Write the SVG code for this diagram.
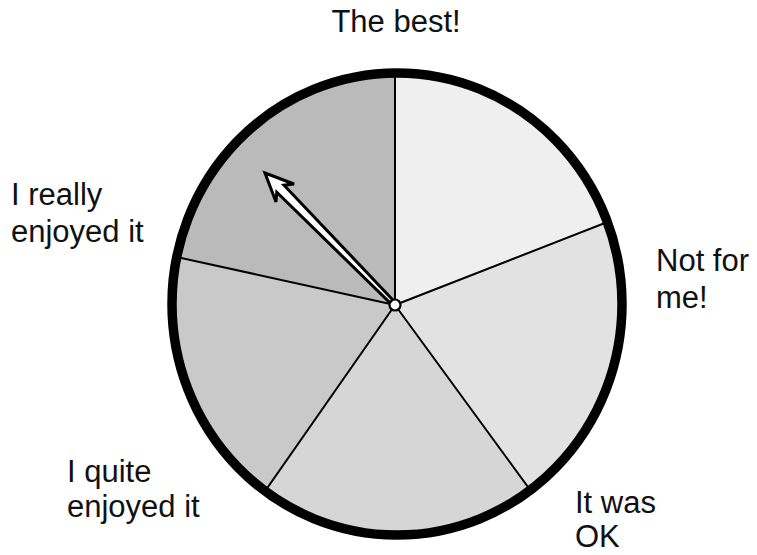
<svg xmlns="http://www.w3.org/2000/svg" width="757" height="555" viewBox="0 0 757 555">
  <style>
    .lbl { font-family: "Liberation Sans", Arial, sans-serif; font-size: 31px; fill: #111; }
    .spoke { stroke: #000; stroke-width: 2; fill: none; }
  </style>
  <defs>
    <clipPath id="wheel">
      <ellipse cx="397" cy="304" rx="225" ry="231"/>
    </clipPath>
  </defs>
  <rect width="757" height="555" fill="#fff"/>
  <g id="wheel-sectors" clip-path="url(#wheel)">
    <g id="sector-top-right"><polygon points="395,305 395,-100 815,-100 815,141" fill="#efefef"/></g>
    <g id="sector-right"><polygon points="395,305 815,141 815,669 661,669" fill="#e2e2e2"/></g>
    <g id="sector-bottom"><polygon points="395,305 661,669 141,669" fill="#d6d6d6"/></g>
    <g id="sector-left"><polygon points="395,305 141,669 -41,669 -41,209" fill="#c9c9c9"/></g>
    <g id="sector-top-left"><polygon points="395,305 -41,209 -41,-100 395,-100" fill="#bababa"/></g>
  </g>
  <g id="connectors" clip-path="url(#wheel)">
    <line class="spoke" x1="395" y1="305" x2="395" y2="60"/>
    <line class="spoke" x1="395" y1="305" x2="815" y2="141"/>
    <line class="spoke" x1="395" y1="305" x2="661" y2="669"/>
    <line class="spoke" x1="395" y1="305" x2="141" y2="669"/>
    <line class="spoke" x1="395" y1="305" x2="-41" y2="209"/>
  </g>
  <g id="rim">
    <ellipse cx="397" cy="304" rx="225" ry="231" fill="none" stroke="#000" stroke-width="9.5"/>
  </g>
  <g id="pointer">
    <polygon points="265,173 294,184 284,185.2 396.4,303.6 393.6,306.4 276.8,192.2 276,202" fill="#fff" stroke="#000" stroke-width="3" stroke-linejoin="miter"/>
    <circle cx="395" cy="305" r="5.5" fill="#fff" stroke="#000" stroke-width="2.2"/>
  </g>
  <g id="label-best"><text class="lbl" x="396" y="32" text-anchor="middle">The best!</text></g>
  <g id="label-really"><text class="lbl" x="11" y="205">I really</text><text class="lbl" x="11" y="242">enjoyed it</text></g>
  <g id="label-notforme"><text class="lbl" x="656" y="271">Not for</text><text class="lbl" x="656" y="308">me!</text></g>
  <g id="label-quite"><text class="lbl" x="67" y="482">I quite</text><text class="lbl" x="67" y="517">enjoyed it</text></g>
  <g id="label-ok"><text class="lbl" x="575" y="513">It was</text><text class="lbl" x="575" y="547">OK</text></g>
</svg>
